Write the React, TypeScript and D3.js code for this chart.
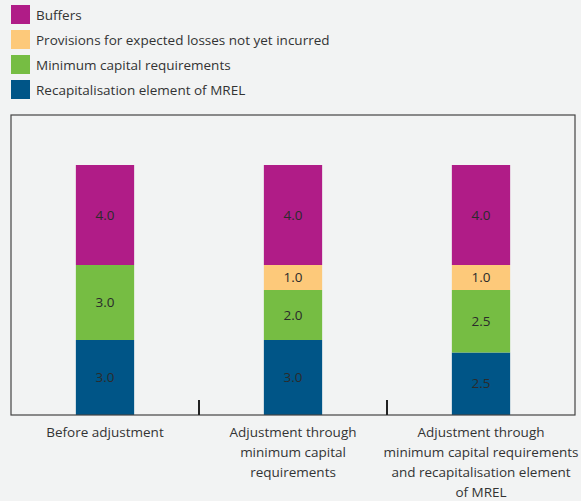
import * as d3 from "d3";

const categories = ["before", "minCap", "minCapMrel"];
const categoryLabels = [
  ["Before adjustment"],
  ["Adjustment through", "minimum capital", "requirements"],
  ["Adjustment through", "minimum capital requirements", "and recapitalisation element", "of MREL"],
];

const seriesNames = [
  "Recapitalisation element of MREL",
  "Minimum capital requirements",
  "Provisions for expected losses not yet incurred",
  "Buffers",
];
const seriesColors = ["#005587", "#76bd43", "#fdc97a", "#b01c87"];

const recapMrel = [3.0, 3.0, 2.5];
const minCapital = [3.0, 2.0, 2.5];
const provisions = [0, 1.0, 1.0];
const buffers = [4.0, 4.0, 4.0];

const W = 581;
const H = 501;
const plot = { left: 11, right: 575, top: 115, bottom: 415 };
const font = "'Open Sans', sans-serif";

export default function App() {
  const seriesValues = [recapMrel, minCapital, provisions, buffers];
  const rows = categories.map((c, i) => {
    const r: Record<string, number | string> = { cat: c };
    seriesNames.forEach((s, k) => (r[s] = seriesValues[k][i]));
    return r;
  });
  const stacked = d3.stack<Record<string, number | string>>().keys(seriesNames)(rows as any);

  const x = d3.scaleBand().domain(categories).range([plot.left, plot.right]).paddingInner(0.69).paddingOuter(0.345);
  const band = d3.scaleBand().domain(categories).range([plot.left, plot.right]);
  const y = d3.scaleLinear().domain([0, 12]).range([plot.bottom, plot.top]);

  const legendOrder = [3, 2, 1, 0];

  return (
    <svg width={W} height={H} style={{ position: "absolute", left: 0, top: 0 }} fontFamily={font}>
      <rect width={W} height={H} fill="#f2f3f3" />
      {legendOrder.map((k, i) => (
        <g key={k} transform={`translate(11,${5 + i * 25})`}>
          <rect width={19} height={19} fill={seriesColors[k]} />
          <text x={25} y={14.5} fontSize={13.5} fill="#333">
            {seriesNames[k]}
          </text>
        </g>
      ))}
      {stacked.map((layer, k) => (
        <g key={k}>
          {layer.map((d, i) => {
            const v = d[1] - d[0];
            if (!v) return null;
            const cx = (x(categories[i]) as number) + x.bandwidth() / 2;
            return (
              <g key={i}>
                <rect
                  x={x(categories[i])}
                  width={x.bandwidth()}
                  y={y(d[1])}
                  height={y(d[0]) - y(d[1])}
                  fill={seriesColors[k]}
                />
                <text
                  x={cx}
                  y={(y(d[0]) + y(d[1])) / 2}
                  dy="0.35em"
                  textAnchor="middle"
                  fontSize={13.5}
                  fill="#2b2b2b"
                >
                  {v.toFixed(1)}
                </text>
              </g>
            );
          })}
        </g>
      ))}
      <rect
        x={plot.left}
        y={plot.top}
        width={plot.right - plot.left}
        height={plot.bottom - plot.top}
        fill="none"
        stroke="#444"
        strokeWidth={1.2}
      />
      {categories.slice(1).map((c) => (
        <line
          key={c}
          x1={band(c)}
          x2={band(c)}
          y1={plot.bottom}
          y2={plot.bottom - 15}
          stroke="#222"
          strokeWidth={2}
        />
      ))}
      {categories.map((c, i) => (
        <text
          key={c}
          x={(band(c) as number) + band.bandwidth() / 2}
          y={437}
          textAnchor="middle"
          fontSize={13.5}
          fill="#333"
        >
          {categoryLabels[i].map((l, j) => (
            <tspan key={j} x={(band(c) as number) + band.bandwidth() / 2} dy={j === 0 ? 0 : 20}>
              {l}
            </tspan>
          ))}
        </text>
      ))}
    </svg>
  );
}
